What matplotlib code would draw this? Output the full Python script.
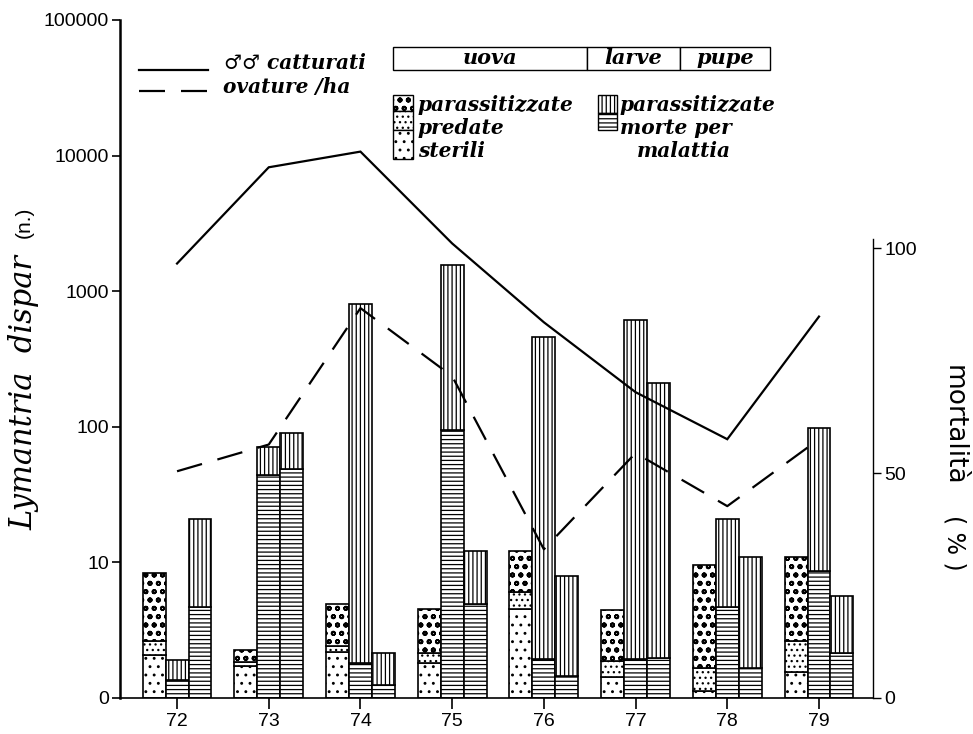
import matplotlib
matplotlib.use('Agg')
import matplotlib.pyplot as plt
import numpy as np
from matplotlib.patches import Rectangle
from matplotlib.lines import Line2D

# ---------------- data ----------------
years = [72, 73, 74, 75, 76, 77, 78, 79]
year_labels = ['72', '73', '74', '75', '76', '77', '78', '79']

# left (log) axis: Lymantria dispar (n.)
males_captured = [1600, 8200, 10700, 2250, 590, 180, 81, 650]
egg_masses_ha = [47, 74, 750, 236, 12.5, 64, 26, 81]

# right axis: mortality (%) - eggs
egg_sterili = [9.6, 7.1, 10.2, 7.8, 19.8, 4.7, 1.6, 5.7]
egg_predate = [3.1, 0.9, 1.4, 2.1, 3.7, 3.6, 5.0, 7.0]
egg_parass = [15.0, 2.7, 9.2, 9.9, 9.2, 11.3, 23.0, 18.6]
# larvae
larve_malattia = [4.0, 49.6, 7.7, 59.6, 8.6, 8.6, 20.3, 28.2]
larve_parass = [4.4, 6.2, 79.9, 36.6, 71.7, 75.4, 19.4, 31.7]
# pupae
pupe_malattia = [20.3, 51.0, 3.0, 21.0, 4.9, 9.0, 6.7, 9.9]
pupe_parass = [19.5, 8.0, 6.9, 11.7, 22.2, 60.9, 24.7, 12.8]

log_ticks = [1, 10, 100, 1000, 10000, 100000]
log_ticklabels = ['0', '10', '100', '1000', '10000', '100000']
pct_ticks = [0, 50, 100]
pct_ticklabels = ['0', '50', '100']

# ---------------- style ----------------
plt.rcParams['hatch.linewidth'] = 0.9
plt.rcParams['hatch.color'] = 'black'
SANS = 'Liberation Sans'
SERIF = ['DejaVu Serif', 'DejaVu Sans']

W, H = 973, 734
fig = plt.figure(figsize=(W / 100, H / 100), dpi=100)


def fx(px):
    return px / W


def fy(py):
    return 1 - py / H


ax = fig.add_axes([fx(120), fy(698), fx(873) - fx(120), fy(20) - fy(698)])
ax2 = ax.twinx()
ax.set_zorder(2)
ax2.set_zorder(1)
ax.patch.set_visible(False)

x = np.array(years, dtype=float)
bw = 0.25
H_STER, H_PRED, H_PARA_E = '..', '...', 'oo'
H_PARA, H_MAL = '||||', '----'


def thick_dots(patches, lw=1.3):
    for p in patches:
        if hasattr(p, 'set_hatch_linewidth'):
            p.set_hatch_linewidth(lw)


bar_kw = dict(width=bw, facecolor='white', edgecolor='black', linewidth=1.2)
es = np.array(egg_sterili)
ep = np.array(egg_predate)
ea = np.array(egg_parass)
ax2.bar(x - bw, es, hatch=H_STER, **bar_kw)
ax2.bar(x - bw, ep, bottom=es, hatch=H_PRED, **bar_kw)
bp = ax2.bar(x - bw, ea, bottom=es + ep, hatch=H_PARA_E, **bar_kw)
thick_dots(bp)

lm = np.array(larve_malattia)
lp = np.array(larve_parass)
ax2.bar(x, lm, hatch=H_MAL, **bar_kw)
ax2.bar(x, lp, bottom=lm, hatch=H_PARA, **bar_kw)

pm = np.array(pupe_malattia)
pp = np.array(pupe_parass)
ax2.bar(x + bw, pm, hatch=H_MAL, **bar_kw)
ax2.bar(x + bw, pp, bottom=pm, hatch=H_PARA, **bar_kw)

# lines
ax.plot(x, males_captured, color='black', lw=1.6, solid_joinstyle='miter')
ax.plot(x, egg_masses_ha, color='black', lw=1.6, dashes=(11.7, 7.2))

# axes limits
ax.set_yscale('log')
ax.set_ylim(1, 100000)
ax.set_xlim(71.378, 79.589)
ax2.set_ylim(0, 150.67)

ax.set_yticks(log_ticks)
ax.set_yticklabels(log_ticklabels, fontsize=14, fontfamily=SANS)
ax.yaxis.set_minor_locator(matplotlib.ticker.NullLocator())
ax.set_xticks(years)
ax.set_xticklabels(year_labels, fontsize=14, fontfamily=SANS)
ax2.set_yticks(pct_ticks)
ax2.set_yticklabels(pct_ticklabels, fontsize=14, fontfamily=SANS)

ax.tick_params(axis='y', direction='out', length=6, width=1.2, pad=2)
ax.tick_params(axis='x', direction='out', length=8, width=1.2, pad=3)
ax2.tick_params(axis='y', direction='out', length=6, width=1.0, pad=2)

for a in (ax, ax2):
    a.spines['top'].set_visible(False)
ax.spines['right'].set_visible(False)
ax2.spines['left'].set_visible(False)
ax2.spines['bottom'].set_visible(False)
ax.spines['left'].set_linewidth(1.8)
ax.spines['bottom'].set_linewidth(1.2)
ax2.spines['right'].set_linewidth(1.0)
ax2.spines['right'].set_bounds(0, 102)

# axis labels
fig.text(fx(24), fy(393), 'Lymantria  dispar', rotation=90, ha='center', va='center',
         fontsize=22, family=SERIF, style='italic')
fig.text(fx(24), fy(222), '(n.)', rotation=90, ha='center', va='center',
         fontsize=15, family=SANS)
fig.text(fx(954), fy(425), 'mortalità', rotation=270, ha='center', va='center',
         fontsize=19, family='DejaVu Sans')
fig.text(fx(954), fy(543), '( % )', rotation=270, ha='center', va='center',
         fontsize=17, family='DejaVu Sans')

# line legend
fig.add_artist(Line2D([fx(139), fx(208)], [fy(70), fy(70)], color='black', lw=1.6,
                      transform=fig.transFigure))
fig.add_artist(Line2D([fx(139), fx(208)], [fy(91), fy(91)], color='black', lw=1.6,
                      dashes=(11.7, 7.2), transform=fig.transFigure))
fig.text(fx(224), fy(63), '♂♂ catturati', ha='left', va='center', fontsize=14.5,
         family=SERIF, style='italic', weight='bold')
fig.text(fx(223), fy(87), 'ovature /ha', ha='left', va='center', fontsize=14.5,
         family=SERIF, style='italic', weight='bold')

# stage boxes
for (x0, x1, lab) in [(393, 587, 'uova'), (587, 680, 'larve'), (680, 770, 'pupe')]:
    fig.add_artist(Rectangle((fx(x0), fy(70)), fx(x1) - fx(x0), fy(47) - fy(70),
                             facecolor='white', edgecolor='black', lw=1.0,
                             transform=fig.transFigure))
    fig.text(fx((x0 + x1) / 2), fy(58.5), lab, ha='center', va='center', fontsize=15,
             family=SERIF, style='italic', weight='bold')


# hatch legend
def leg_patch(x0, y0, x1, y1, hatch, dots=False):
    r = Rectangle((fx(x0), fy(y1)), fx(x1) - fx(x0), fy(y0) - fy(y1),
                  facecolor='white', edgecolor='black', lw=1.0, hatch=hatch,
                  transform=fig.transFigure)
    if dots:
        thick_dots([r])
    fig.add_artist(r)


leg_patch(393, 95, 413, 111, H_PARA_E, dots=True)
leg_patch(393, 111, 413, 130, H_PRED)
leg_patch(393, 130, 413, 159, H_STER)
leg_patch(598, 95, 617, 113, H_PARA)
leg_patch(598, 113, 617, 130, H_MAL)

txt_kw = dict(ha='left', va='baseline', fontsize=14.5, family=SERIF, style='italic', weight='bold')
fig.text(fx(418), fy(111), 'parassitizzate', **txt_kw)
fig.text(fx(418), fy(134), 'predate', **txt_kw)
fig.text(fx(418), fy(157), 'sterili', **txt_kw)
fig.text(fx(620), fy(111), 'parassitizzate', **txt_kw)
fig.text(fx(620), fy(134), 'morte per', **txt_kw)
fig.text(fx(637), fy(157), 'malattia', **txt_kw)

fig.savefig('out.png', dpi=100, facecolor='white')
